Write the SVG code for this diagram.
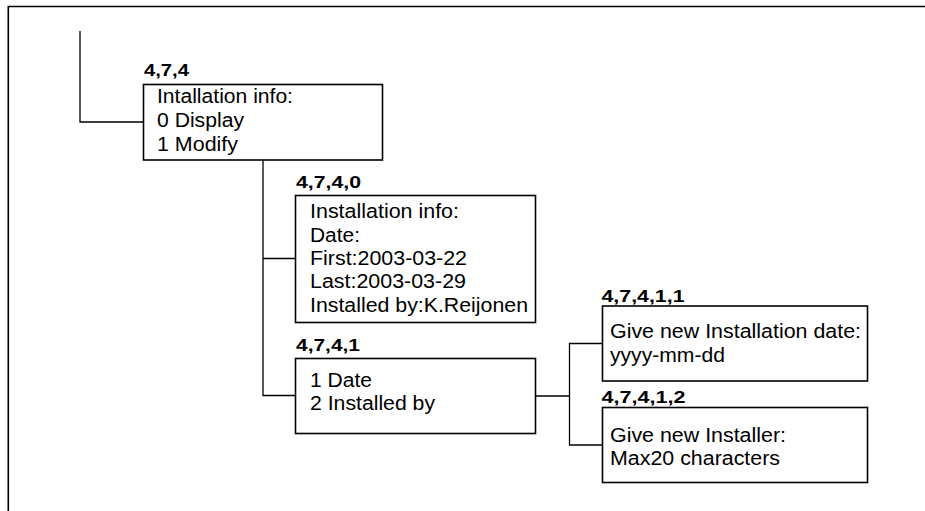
<svg xmlns="http://www.w3.org/2000/svg" width="925" height="511" viewBox="0 0 925 511">
<style>
.box{fill:#fff;stroke:#000;stroke-width:1.6}
.conn{fill:none;stroke:#000;stroke-width:1.3}
.frame{fill:none;stroke:#000;stroke-width:1.6}
.lbl{font-family:"Liberation Sans",Arial,Helvetica,sans-serif;font-weight:bold;font-size:17px;fill:#000}
.txt{font-family:"Liberation Sans",Arial,Helvetica,sans-serif;font-size:19.5px;fill:#000}
</style>
<rect width="925" height="511" fill="#fff"/>
<path class="frame" d="M8.3,511 V6.5 H925"/>
<g id="connectors">
<path class="conn" d="M80,31 V122 H143.5"/>
<path class="conn" d="M263,160 V395.5 H295.5"/>
<path class="conn" d="M263,258.5 H295.5"/>
<path class="conn" d="M535,396 H569.5"/>
<path class="conn" d="M602.5,343.5 H569.5 V445 H602.5"/>
</g>
<g id="n474">
<text class="lbl" x="144" y="75.5" textLength="45" lengthAdjust="spacingAndGlyphs">4,7,4</text>
<rect class="box" x="143.5" y="84.5" width="239" height="75.5"/>
<text class="txt" x="157" y="103" textLength="136" lengthAdjust="spacingAndGlyphs">Intallation info:</text>
<text class="txt" x="157" y="127" textLength="87" lengthAdjust="spacingAndGlyphs">0 Display</text>
<text class="txt" x="157" y="150.5" textLength="81" lengthAdjust="spacingAndGlyphs">1 Modify</text>
</g>
<g id="n4740">
<text class="lbl" x="296" y="187.5" textLength="65" lengthAdjust="spacingAndGlyphs">4,7,4,0</text>
<rect class="box" x="295.5" y="195.5" width="240" height="127"/>
<text class="txt" x="310" y="218.3" textLength="149" lengthAdjust="spacingAndGlyphs">Installation info:</text>
<text class="txt" x="310" y="241.7" textLength="50" lengthAdjust="spacingAndGlyphs">Date:</text>
<text class="txt" x="310" y="265" textLength="157" lengthAdjust="spacingAndGlyphs">First:2003-03-22</text>
<text class="txt" x="310" y="288.3" textLength="156" lengthAdjust="spacingAndGlyphs">Last:2003-03-29</text>
<text class="txt" x="310" y="311.7" textLength="218" lengthAdjust="spacingAndGlyphs">Installed by:K.Reijonen</text>
</g>
<g id="n4741">
<text class="lbl" x="296" y="350.5" textLength="64" lengthAdjust="spacingAndGlyphs">4,7,4,1</text>
<rect class="box" x="295.5" y="358.5" width="240" height="75"/>
<text class="txt" x="310" y="386.7" textLength="62" lengthAdjust="spacingAndGlyphs">1 Date</text>
<text class="txt" x="310" y="410" textLength="125" lengthAdjust="spacingAndGlyphs">2 Installed by</text>
</g>
<g id="n47411">
<text class="lbl" x="601.5" y="301.5" textLength="83" lengthAdjust="spacingAndGlyphs">4,7,4,1,1</text>
<rect class="box" x="602.5" y="306" width="265" height="75"/>
<text class="txt" x="610" y="338.3" textLength="251" lengthAdjust="spacingAndGlyphs">Give new Installation date:</text>
<text class="txt" x="610" y="361.5" textLength="115" lengthAdjust="spacingAndGlyphs">yyyy-mm-dd</text>
</g>
<g id="n47412">
<text class="lbl" x="601.5" y="402.7" textLength="84" lengthAdjust="spacingAndGlyphs">4,7,4,1,2</text>
<rect class="box" x="602.5" y="407.5" width="265" height="75"/>
<text class="txt" x="610" y="442.3" textLength="176" lengthAdjust="spacingAndGlyphs">Give new Installer:</text>
<text class="txt" x="610" y="465" textLength="170" lengthAdjust="spacingAndGlyphs">Max20 characters</text>
</g>
</svg>
